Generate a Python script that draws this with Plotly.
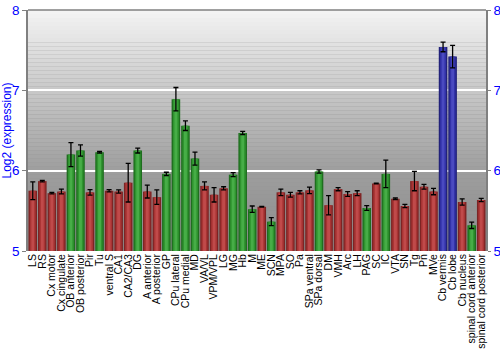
import plotly.graph_objects as go

regions = ["LS", "RS", "Cx motor", "Cx cingulate", "OB anterior", "OB posterior", "Pir", "Tu",
           "ventral S", "CA1", "CA2/CA3", "DG", "A anterior", "A posterior", "GP", "CPu lateral",
           "CPu medial", "MD", "VA/VL", "VPM/VPL", "LG", "MG", "Hb", "M", "ME", "SCN", "MPA", "SO",
           "Pa", "SPa ventral", "SPa dorsal", "DM", "VMH", "Arc", "LH", "PAG", "SC", "IC", "VTA",
           "SN", "Tg", "Pn", "MVe", "Cb vermis", "Cb lobe", "Cb nucleus", "spinal cord anterior",
           "spinal cord posterior"]

values = [5.75, 5.87, 5.72, 5.74, 6.20, 6.25, 5.73, 6.23,
          5.75, 5.74, 5.85, 6.25, 5.74, 5.67, 5.96, 6.89,
          6.56, 6.15, 5.81, 5.70, 5.78, 5.95, 6.47, 5.52, 5.55, 5.365, 5.73, 5.70,
          5.73, 5.755, 5.99, 5.57, 5.77, 5.71, 5.72, 5.535, 5.84, 5.96, 5.65,
          5.56, 5.87, 5.80, 5.74, 7.54, 7.42, 5.61, 5.32,
          5.635]

errors = [0.11, 0.01, 0.01, 0.03, 0.15, 0.07, 0.035, 0.01,
          0.015, 0.02, 0.24, 0.03, 0.08, 0.09, 0.02, 0.145,
          0.06, 0.08, 0.05, 0.09, 0.02, 0.025, 0.02, 0.04, 0.005, 0.05, 0.04, 0.03,
          0.02, 0.04, 0.02, 0.12, 0.02, 0.03, 0.03, 0.03, 0.005, 0.17, 0.01,
          0.02, 0.12, 0.03, 0.04, 0.06, 0.14, 0.04, 0.04,
          0.02]

groups = ["r", "r", "r", "r", "g", "g", "r", "g",
          "r", "r", "r", "g", "r", "r", "g", "g",
          "g", "g", "r", "r", "r", "g", "g", "g", "r", "g", "r", "r",
          "r", "r", "g", "r", "r", "r", "r", "g", "r", "g", "r",
          "r", "r", "r", "r", "b", "b", "r", "g",
          "r"]

y_ticks = [5, 6, 7, 8]

palette = {
    "r": ["#7c2424", "#a83434", "#c04a4a"],
    "g": ["#1f6e1f", "#2f942f", "#47ad47"],
    "b": ["#22227a", "#3232a8", "#4a4ac0"],
}

fig = go.Figure()

# background gradient bands (style only)
n_bands = 60
stops = [(5.0, 140), (6.0, 158), (7.0, 200), (8.0, 244)]
def gray_at(v):
    for (a, ca), (b, cb) in zip(stops[:-1], stops[1:]):
        if a <= v <= b:
            t = (v - a) / (b - a)
            return int(round(ca + t * (cb - ca)))
    return stops[-1][1]
shapes = []
for i in range(n_bands):
    y0 = 5 + 3 * i / n_bands
    y1 = 5 + 3 * (i + 1) / n_bands
    g = gray_at((y0 + y1) / 2)
    shapes.append(dict(type="rect", xref="paper", yref="y", x0=0, x1=1, y0=y0, y1=y1,
                       fillcolor=f"rgb({g},{g},{g})", line=dict(width=0), layer="below"))
shapes.append(dict(type="line", xref="paper", yref="paper", x0=0, x1=1, y0=1, y1=1,
                   line=dict(color="#808080", width=1.5), layer="above"))

widths = [0.9, 0.62, 0.3]
for layer, w in enumerate(widths):
    cols = [palette[g][layer] for g in groups]
    fig.add_trace(go.Bar(
        x=regions, y=[v - 5 for v in values], base=5, width=w,
        marker=dict(color=cols, line=dict(width=0)),
        hoverinfo="skip", showlegend=False,
    ))

# error bars
fig.add_trace(go.Scatter(
    x=regions, y=values, mode="markers",
    marker=dict(size=1, color="rgba(0,0,0,0)"),
    error_y=dict(type="data", array=errors, visible=True, color="black", thickness=1.3, width=2.5),
    showlegend=False, hoverinfo="skip",
))

fig.add_trace(go.Scatter(
    x=regions, y=values, mode="markers", yaxis="y2",
    marker=dict(size=1, color="rgba(0,0,0,0)"), showlegend=False, hoverinfo="skip",
))

fig.update_layout(
    width=500, height=350,
    margin=dict(l=28, r=14, t=10, b=99),
    paper_bgcolor="white", plot_bgcolor="#909090",
    barmode="overlay", bargap=0.1,
    font=dict(family="Liberation Sans, Arial, sans-serif"),
    shapes=shapes,
    xaxis=dict(type="category", tickmode="array", tickvals=regions, ticktext=regions,
               tickangle=-90, tickfont=dict(size=10.5, color="black"),
               showgrid=False, ticks="", automargin=False, range=[-0.5, len(regions) - 0.5]),
    yaxis=dict(range=[5, 8], tickvals=y_ticks, ticks="outside", ticklen=4, tickcolor="#808080",
               tickfont=dict(size=13.5, color="blue"), showline=True, linecolor="#808080", linewidth=1.5,
               gridcolor="white", gridwidth=1.5, zeroline=False, automargin=False,
               title=dict(text="Log2 (expression)", font=dict(size=12, color="blue"), standoff=0)),
    yaxis2=dict(range=[5, 8], tickvals=y_ticks, overlaying="y", side="right", ticks="outside",
                ticklen=3, tickcolor="#808080", tickfont=dict(size=13.5, color="blue"),
                showline=True, linecolor="#808080", linewidth=1.5, showgrid=False,
                zeroline=False, automargin=False),
)

fig.write_html("out.html")
